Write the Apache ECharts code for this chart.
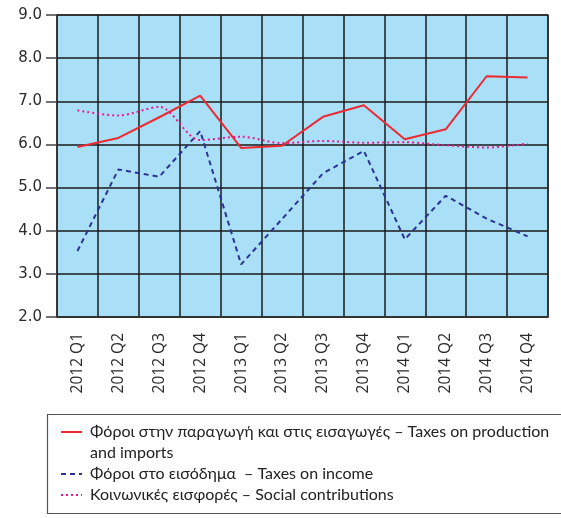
<!DOCTYPE html>
<html><head><meta charset="utf-8">
<script src="https://cdn.jsdelivr.net/npm/echarts@6/dist/echarts.min.js"></script>
<style>html,body{margin:0;padding:0;background:#fff}#c{width:561px;height:518px}</style>
</head><body><div id="c"></div>
<script>
const categories = ['2012 Q1','2012 Q2','2012 Q3','2012 Q4','2013 Q1','2013 Q2','2013 Q3','2013 Q4','2014 Q1','2014 Q2','2014 Q3','2014 Q4'];
const productionTaxes = [5.94, 6.15, 6.63, 7.13, 5.92, 5.97, 6.64, 6.91, 6.12, 6.35, 7.58, 7.55];
const incomeTaxes = [3.53, 5.42, 5.25, 6.31, 3.22, 4.27, 5.33, 5.85, 3.80, 4.81, 4.28, 3.87];
const socialContrib = [6.79, 6.67, 6.87, 6.10, 6.18, 6.03, 6.08, 6.04, 6.05, 5.98, 5.93, 6.02];
const seriesNames = [
  'Φόροι στην παραγωγή και στις εισαγωγές – Taxes on production\nand imports',
  'Φόροι στο εισόδημα  – Taxes on income',
  'Κοινωνικές εισφορές – Social contributions'
];
const colors = ['#ec2a32', '#2b3394', '#e8198f'];
const lineTypes = ['solid', [5, 4], [2, 3]];

const chart = echarts.init(document.getElementById('c'));
const legendGraphics = [];
const legendRowY = [432, 474, 495];
seriesNames.forEach((n, i) => {
  legendGraphics.push({
    type: 'line', shape: {x1: 61, y1: legendRowY[i], x2: 82, y2: legendRowY[i]},
    style: {stroke: colors[i], lineWidth: 2, lineDash: i === 0 ? null : lineTypes[i]}
  });
  legendGraphics.push({
    type: 'text', left: 90, top: legendRowY[i] - 11,
    style: {text: n, font: '16px Lato', fill: '#222', lineHeight: 21}
  });
});
legendGraphics.push({
  type: 'rect', shape: {x: 47.5, y: 414.5, width: 530, height: 99},
  style: {fill: 'none', stroke: '#555', lineWidth: 1.2}
});

const data = [productionTaxes, incomeTaxes, socialContrib];
chart.setOption({
  animation: false,
  grid: {left: 57, right: 13, top: 15, bottom: 201, show: true, backgroundColor: '#aadff8', borderColor: '#666', borderWidth: 1.5},
  xAxis: {
    type: 'category', data: categories, boundaryGap: true,
    axisLine: {show: true, lineStyle: {color: '#333', width: 1.5}},
    axisTick: {show: false},
    axisLabel: {rotate: 90, margin: 16, fontFamily: 'Open Sans', fontSize: 15.5, color: '#2a2a2a', interval: 0},
    splitLine: {show: true, interval: 0, lineStyle: {color: '#1a1a1a', width: 1.5}}
  },
  yAxis: {
    type: 'value', min: 2, max: 9, interval: 1,
    axisLine: {show: false},
    axisTick: {show: true, inside: false, length: 11, lineStyle: {color: '#444', width: 1.5}},
    axisLabel: {margin: 15, fontFamily: 'DejaVu Sans', fontSize: 15, color: '#2a2a2a', formatter: v => v.toFixed(1)},
    splitLine: {show: true, lineStyle: {color: '#1a1a1a', width: 1.5}}
  },
  series: data.map((d, i) => ({
    type: 'line', name: seriesNames[i], data: d, symbol: 'none',
    smooth: i === 2 ? 0.3 : false,
    lineStyle: {color: colors[i], width: 2, type: lineTypes[i]}, z: 3 + i
  })),
  graphic: legendGraphics
});
</script></body></html>
